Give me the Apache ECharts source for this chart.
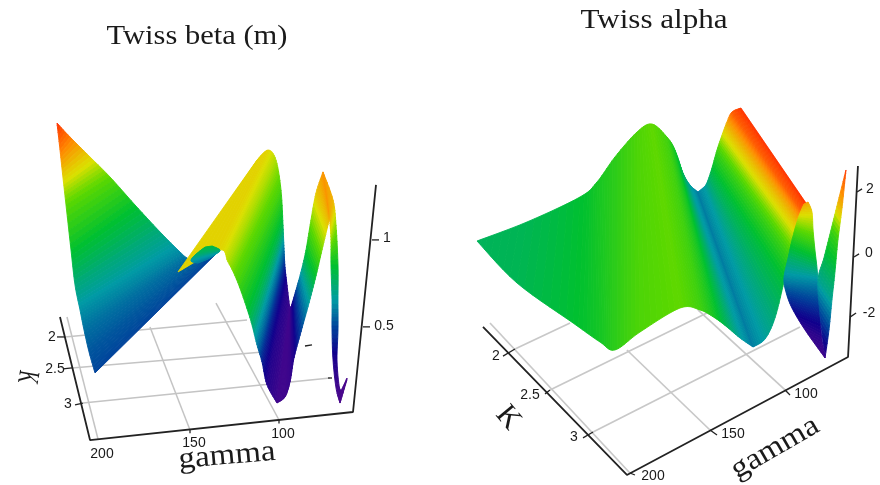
<!DOCTYPE html>
<html><head><meta charset="utf-8">
<style>html,body{margin:0;padding:0;background:#fff}#c{width:880px;height:485px;filter:blur(0.45px)}</style>
<script src="https://cdn.jsdelivr.net/npm/echarts@6/dist/echarts.min.js"></script>
</head><body><div id="c"></div>
<script>
// ---------- Left panel: Twiss beta, read as apparent gamma / beta along the two edges of each fold ----------
const betaFoldA = {
  gEdge1:[222.65,215.5,204.5,193.5,179.75,166,156.1,151.15,144,133],
  vEdge1:[1.673,1.593,1.478,1.363,1.202,1.047,0.943,0.897,0.874,0.943],
  gEdge2:[222.65,221,219.35,217.7,214.95,212.75,210,207.8,205.05,201.75],
  vEdge2:[1.673,1.518,1.357,1.202,0.943,0.742,0.598,0.483,0.357,0.236],
  level:[1.15,1.02,0.86,0.73,0.60,0.50,0.43,0.38,0.34,0.31]
};
const betaLens = {
  gEdge1:[141.25,146.75,148.95,145.1], vEdge1:[0.960,0.914,0.880,0.868],
  gEdge2:[137.4,133,135.2,139.6], vEdge2:[0.966,0.943,0.920,0.891],
  level:[0.58,0.52,0.45,0.40]
};
const betaFoldB = {
  gEdge1:[112.65,106.6,102.2,99.45,98.35,97.8,97.25,96.15,94.5],
  vEdge1:[1.4605,1.518,1.4605,1.288,1.087,0.955,0.845,0.742,0.598],
  gEdge2:[156.1,133.55,128.6,123.1,116.5,112.65,109.9,107.15,101.65],
  vEdge2:[0.817,0.943,0.874,0.753,0.552,0.397,0.299,0.167,0.063],
  level:[0.86,0.86,0.80,0.70,0.56,0.40,0.26,0.17,0.12]
};
const betaFoldC = {
  gEdge1:[94.5,94.2,93.95,93.4,91.2,88.45,85.7,82.95,80.2,76.35],
  vEdge1:[0.598,0.603,0.615,0.633,0.713,0.817,0.943,1.116,1.271,1.392],
  gEdge2:[101.65,97.25,94.5,92.3,88.45,84.05,80.2,76.9,73.6,72.5],
  vEdge2:[0.063,0.098,0.184,0.322,0.472,0.638,0.794,0.943,1.087,1.144],
  level:[0.12,0.12,0.13,0.17,0.30,0.45,0.60,0.75,0.88,0.98]
};
const betaFoldD = {
  gEdge1:[76.35,70.85,69.2,68.1,68.1,68.1,68.65,67.55,66.45],
  vEdge1:[1.392,1.231,1.087,0.857,0.656,0.483,0.311,0.167,0.132],
  gEdge2:[72.5,72.5,71.95,71.95,71.4,71.4,70.85,69.2,67],
  vEdge2:[1.144,1.104,1.0,0.857,0.656,0.483,0.311,0.1495,0.063],
  level:[0.98,0.92,0.78,0.60,0.45,0.30,0.18,0.12,0.10]
};
const betaTail = {
  gEdge1:[66.45,63.15], vEdge1:[0.132,0.207],
  gEdge2:[67,63.15], vEdge2:[0.063,0.196],
  level:[0.10,0.10]
};
// ---------- Right panel: Twiss alpha ----------
const alphaFoldA = {
  gEdge1:[297.1,265.4,231.7,220.9,209.5,195.5,186,176.5,171.4,166.3,161.85,156.8],
  vEdge1:[0.388,1.001,1.809,2.293,3.101,3.908,4.167,3.747,3.327,2.584,2.196,1.970],
  gEdge2:[297.1,271.7,236.1,219,209.5,193.6,168.2,155.5,146,138.4,130.1,121.8],
  vEdge2:[0.388,-0.969,-2.261,-2.875,-3.133,-2.552,-1.777,-1.841,-2.100,-2.390,-2.746,-3.036],
  level:[-0.6,-0.55,-0.3,-0.1,0.1,0.4,0.55,0.3,-0.1,-0.55,-1.05,-1.45]
};
const alphaFoldB = {
  gEdge1:[156.8,152.3,150.4,147.9,144.7,141.5,138.4,135.2,129.5],
  vEdge1:[1.970,2.164,2.358,2.746,3.327,3.811,4.231,4.554,4.684],
  gEdge2:[121.8,114.2,107.9,102.2,98.35,95.2,92.6,90.7,88.2],
  vEdge2:[-3.036,-2.778,-2.1,-0.937,-0.065,0.581,1.066,1.357,1.615],
  level:[-1.45,-1.1,-0.8,-0.35,0.25,1.05,1.75,2.5,2.9]
};
const alphaFoldC = {
  gEdge1:[86.9,84.4,83.7,82.5,81.2,80.6,79.9,79.3,78,76.1],
  vEdge1:[1.647,1.324,0.743,0.097,-0.485,-0.937,-1.518,-2.1,-2.81,-3.392],
  gEdge2:[89.5,92,94.5,97.1,99.6,102.2,100.9,97.1,88.8,76.1],
  vEdge2:[1.583,1.292,0.904,0.42,-0.162,-0.808,-1.26,-1.777,-2.487,-3.392],
  level:[1.9,1.3,0.7,0,-0.7,-1.3,-1.9,-2.4,-2.9,-3.1]
};
const alphaFoldD = {
  gEdge1:[76.1,79.3,80.6,76.8,72.3,67.9,62.8],
  vEdge1:[-3.392,-2.003,-0.872,-0.162,0.743,1.647,2.681],
  gEdge2:[76.1,73.6,71.7,69.8,67.9,65.3,62.8],
  vEdge2:[-3.392,-2.487,-1.518,-0.614,0.42,1.454,2.681],
  level:[-3.1,-2.0,-1.0,-0.5,0.2,1.6,2.9]
};
// ---------- Box lines, in the same apparent axis units ----------
const betaFrame=[[221,0.558],[204.5,-0.15],[59.85,0.0115],[47.2,1.317]];
const betaGrid=[
 [[218.25,0.443],[118.15,0.541]],[[214.4,0.265],[109.35,0.357]],[[208.35,0.063],[72.5,0.207]],
 [[200.1,-0.144],[217.15,0.558]],[[149.5,-0.092],[171.5,0.5]],[[100.55,-0.0345],[135.2,0.638]]];
const betaTicks=[
 [[222.65,0.443],[218.25,0.443]],[[219.35,0.259],[214.4,0.265]],[[212.75,0.052],[208.35,0.063]],
 [[149.5,-0.092],[149.5,-0.11]],[[100.55,-0.0345],[100.55,-0.055]],
 [[49.4,1.001],[45.55,1.001]],[[54.35,0.501],[50.5,0.501]],
 [[86.25,0.391],[82.4,0.397]],[[73.6,0.207],[71.4,0.207]]];
const alphaFrame=[[293.3,-2.39],[201.9,-7.17],[61.5,-3.36],[55.2,2.81]];
const alphaGrid=[
 [[273,-3.1],[238,-2.26]],[[250.75,-4.425],[151.1,-1.938]],[[223.4,-5.78],[92,-2.39]],
 [[101.5,-4.425],[156.8,-1.84]],[[149.15,-5.717],[201.9,-3.133]],[[200,-7.106],[288.85,-2.26]]];
const alphaTicks=[
 [[280.6,-3.33],[273,-3.1]],[[253.9,-4.55],[250.75,-4.425]],[[229.8,-5.97],[223.4,-5.78]],
 [[101.5,-4.425],[98.35,-4.586]],[[149.15,-5.717],[144.7,-5.879]],[[200,-7.106],[196.8,-7.17]],
 [[55.8,1.97],[52.6,2.07]],[[57.7,-0.13],[54.5,-0.03]],[[60.25,-2.07],[56.4,-1.938]]];
// ---------- Text ----------
const betaTitle='Twiss beta (m)', alphaTitle='Twiss alpha', xName='gamma', kName='K';
const betaKLabels=['2','2.5','3'], betaGammaLabels=['200','150','100'], betaZLabels=['1','0.5'];
const alphaKLabels=['2','2.5','3'], alphaGammaLabels=['100','150','200'], alphaZLabels=['2','0','-2'];

const rampStops=[[0,[74,8,140]],[0.1,[16,0,140]],[0.2,[0,66,155]],[0.33,[0,155,165]],[0.47,[0,192,48]],
 [0.6,[90,216,0]],[0.7,[220,224,0]],[0.85,[255,138,0]],[1,[255,40,0]]];
function rampColor(t){
  t=Math.max(0,Math.min(1,t));
  for(let i=1;i<rampStops.length;i++){
    if(t<=rampStops[i][0]){
      const a=rampStops[i-1],b=rampStops[i],f=(t-a[0])/(b[0]-a[0]);
      return 'rgb('+a[1].map((c,k)=>Math.round(c+(b[1][k]-c)*f)).join(',')+')';
    }
  }
  return 'rgb(255,40,0)';
}
function cr(p0,p1,p2,p3,t){
  const t2=t*t,t3=t2*t;
  return 0.5*((2*p1)+(-p0+p2)*t+(2*p0-5*p1+4*p2-p3)*t2+(-p0+3*p1-3*p2+p3)*t3);
}
function foldSeries(fold,axis,lo,hi){
  const rows=fold.level.map((z,i)=>[fold.gEdge1[i],fold.vEdge1[i],fold.gEdge2[i],fold.vEdge2[i],z]);
  return {type:'custom',xAxisIndex:axis,yAxisIndex:axis,silent:true,z:5,clip:false,
    data:rows,encode:{x:[0,2],y:[1,3]},
    renderItem(params,api){
      const i=params.dataIndex, n=rows.length;
      if(i>=n-1) return {type:'group',children:[]};
      const at=k=>{const r=rows[Math.max(0,Math.min(n-1,k))];
        return {a:api.coord([r[0],r[1]]),b:api.coord([r[2],r[3]]),z:r[4]};};
      const s0=at(i-1),s1=at(i),s2=at(i+1),s3=at(i+2);
      const steps=7, kids=[];
      const pt=(key,t)=>[cr(s0[key][0],s1[key][0],s2[key][0],s3[key][0],t),cr(s0[key][1],s1[key][1],s2[key][1],s3[key][1],t)];
      for(let j=0;j<steps;j++){
        const u=j/steps,v=(j+1)/steps,m=s1.z+(s2.z-s1.z)*(u+v)/2;
        const col=rampColor((m-lo)/(hi-lo));
        kids.push({type:'polygon',shape:{points:[pt('a',u),pt('a',v),pt('b',v),pt('b',u)]},
          style:{fill:col,stroke:col,lineWidth:0.9}});
      }
      return {type:'group',children:kids};
    }};
}
function pathSeries(pts,axis,color,width,z){
  return {type:'line',xAxisIndex:axis,yAxisIndex:axis,data:pts,showSymbol:false,silent:true,z,clip:false,
    lineStyle:{color,width},animation:false};
}
function label(text,x,y,o){
  return Object.assign({type:'text',x,y,silent:true,
    style:Object.assign({text,fill:'#1a1a1a',font:'14px "Liberation Sans"',textAlign:'center',textVerticalAlign:'middle'},o&&o.style||{})},
    o&&o.el||{});
}
const serif=s=>s+'px "Liberation Serif"';
const series=[
  ...betaGrid.map(p=>pathSeries(p,0,'#c4c4c4',1.5,1)),
  ...alphaGrid.map(p=>pathSeries(p,1,'#c8c8c8',1.7,1)),
  foldSeries(betaFoldA,0,0.1,1.15),foldSeries(betaFoldB,0,0.1,1.15),foldSeries(betaLens,0,0.1,1.15),
  foldSeries(betaFoldC,0,0.1,1.15),foldSeries(betaFoldD,0,0.1,1.15),foldSeries(betaTail,0,0.1,1.15),
  foldSeries(alphaFoldA,1,-3.2,3),foldSeries(alphaFoldB,1,-3.2,3),foldSeries(alphaFoldC,1,-3.2,3),foldSeries(alphaFoldD,1,-3.2,3),
  pathSeries(betaFrame,0,'#222',1.8,8),pathSeries(alphaFrame,1,'#222',1.8,8),
  ...betaTicks.map(p=>pathSeries(p,0,'#222',1.3,8)),
  ...alphaTicks.map(p=>pathSeries(p,1,'#222',1.3,8))
];
const deg=Math.PI/180;
const graphicEls=[
  label(betaTitle,197,37,{style:{font:serif(28)},el:{scaleX:1.09}}),
  label(alphaTitle,654,21,{style:{font:serif(28)},el:{scaleX:1.11}}),
  label(betaKLabels[0],52,337),label(betaKLabels[1],55,369),label(betaKLabels[2],68,404),
  label(betaGammaLabels[0],102,454),label(betaGammaLabels[1],194,443),label(betaGammaLabels[2],283,434),
  label(betaZLabels[0],387,238),label(betaZLabels[1],384,326),
  label(alphaKLabels[0],496,356),label(alphaKLabels[1],530,395),label(alphaKLabels[2],574,437),
  label(alphaGammaLabels[0],806,394),label(alphaGammaLabels[1],733,434),label(alphaGammaLabels[2],653,476),
  label(alphaZLabels[0],870,189),label(alphaZLabels[1],869,253),label(alphaZLabels[2],869,313),
  label(xName,227,456,{style:{font:serif(30)},el:{rotation:5*deg,scaleX:1.1}}),
  label(xName,775,448,{style:{font:serif(30)},el:{rotation:30*deg,scaleX:1.1}}),
  label(kName,27,377,{style:{font:serif(30)},el:{rotation:-100*deg,scaleX:0.6}}),
  label(kName,508,418,{style:{font:serif(30)},el:{rotation:-50*deg}})
];
const chart=echarts.init(document.getElementById('c'),null,{width:880,height:485,renderer:'canvas'});
chart.setOption({
  animation:false,backgroundColor:'#fff',
  grid:[{left:0,top:0,width:440,height:485},{left:440,top:0,width:440,height:485}],
  xAxis:[{type:'value',gridIndex:0,min:12,max:254,inverse:true,show:false},
         {type:'value',gridIndex:1,min:41.2,max:320.6,inverse:true,show:false}],
  yAxis:[{type:'value',gridIndex:0,min:-0.40825,max:2.3805,show:false},
         {type:'value',gridIndex:1,min:-7.4936,max:8.1719,show:false}],
  series,
  graphic:{elements:graphicEls}
});
</script></body></html>
